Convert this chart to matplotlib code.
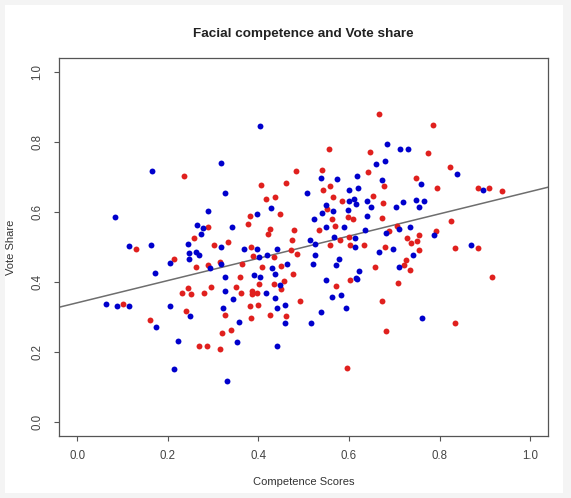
import matplotlib.pyplot as plt
from matplotlib.patches import Rectangle

plt.rcParams['font.family'] = ['Liberation Sans', 'DejaVu Sans']

# competence score (x) and vote share (y)
blue_x = [0.318, 0.165, 0.327, 0.290, 0.084, 0.265, 0.278, 0.274, 0.317, 0.114,
          0.163, 0.245, 0.248, 0.263, 0.270, 0.246, 0.205, 0.294, 0.318, 0.173,
          0.327,
          0.403, 0.684, 0.679, 0.660, 0.539, 0.573, 0.617, 0.673, 0.600, 0.619,
          0.508, 0.601, 0.611, 0.615, 0.639, 0.427, 0.550, 0.564, 0.597, 0.649,
          0.397, 0.523, 0.541, 0.640, 0.342, 0.549, 0.590, 0.636, 0.682, 0.513,
          0.525, 0.566, 0.613, 0.614, 0.368, 0.397, 0.402, 0.420, 0.442, 0.525,
          0.667, 0.431, 0.464, 0.521, 0.572, 0.579, 0.622, 0.391, 0.403, 0.436,
          0.616,
          0.712, 0.731, 0.839, 0.758, 0.897, 0.719, 0.748, 0.766, 0.704, 0.755,
          0.710, 0.735, 0.788, 0.697, 0.869, 0.742, 0.711,
          0.326, 0.064, 0.088, 0.115, 0.204, 0.321, 0.250, 0.175, 0.223, 0.213,
          0.331,
          0.448, 0.417, 0.345, 0.436, 0.550, 0.617, 0.563, 0.583, 0.442, 0.458,
          0.357, 0.458, 0.517, 0.538, 0.594, 0.352, 0.442,
          0.761]
blue_y = [0.740, 0.718, 0.654, 0.603, 0.585, 0.563, 0.553, 0.538, 0.500, 0.502,
          0.504, 0.508, 0.483, 0.486, 0.476, 0.464, 0.454, 0.439, 0.452, 0.424,
          0.415,
          0.846, 0.794, 0.746, 0.738, 0.698, 0.694, 0.703, 0.692, 0.664, 0.669,
          0.655, 0.632, 0.636, 0.623, 0.632, 0.611, 0.621, 0.603, 0.606, 0.613,
          0.594, 0.579, 0.597, 0.588, 0.558, 0.557, 0.558, 0.548, 0.541, 0.519,
          0.509, 0.529, 0.525, 0.499, 0.494, 0.494, 0.472, 0.478, 0.494, 0.478,
          0.485, 0.440, 0.450, 0.450, 0.447, 0.464, 0.432, 0.419, 0.414, 0.423,
          0.411,
          0.781, 0.781, 0.708, 0.680, 0.662, 0.629, 0.634, 0.632, 0.613, 0.615,
          0.550, 0.556, 0.535, 0.494, 0.506, 0.476, 0.443,
          0.373, 0.338, 0.330, 0.331, 0.332, 0.326, 0.301, 0.270, 0.232, 0.151,
          0.116,
          0.390, 0.369, 0.351, 0.353, 0.405, 0.409, 0.356, 0.362, 0.324, 0.334,
          0.285, 0.281, 0.283, 0.314, 0.325, 0.228, 0.217,
          0.297]

red_x = [0.237, 0.288, 0.259, 0.303, 0.333, 0.131, 0.213, 0.263, 0.288, 0.315,
         0.666, 0.556, 0.647, 0.484, 0.541, 0.643, 0.461, 0.405, 0.677, 0.543,
         0.558, 0.418, 0.436, 0.564, 0.654, 0.584, 0.675, 0.551, 0.448, 0.382,
         0.563, 0.597, 0.610, 0.672, 0.377, 0.425, 0.422, 0.478, 0.535, 0.570,
         0.475, 0.581, 0.600, 0.558, 0.603, 0.633, 0.680, 0.384, 0.389, 0.434,
         0.473, 0.486, 0.364, 0.409, 0.450, 0.658, 0.359, 0.476,
         0.786, 0.775, 0.824, 0.749, 0.795, 0.885, 0.910, 0.937, 0.706, 0.825,
         0.688, 0.793, 0.754, 0.729, 0.736, 0.751, 0.835, 0.885, 0.755, 0.727,
         0.721, 0.735, 0.915,
         0.245, 0.232, 0.251, 0.280, 0.296, 0.102, 0.327, 0.240, 0.162, 0.319,
         0.268, 0.287, 0.316,
         0.350, 0.401, 0.434, 0.457, 0.451, 0.361, 0.385, 0.386, 0.397, 0.491,
         0.572, 0.603, 0.381, 0.400, 0.461, 0.425, 0.384, 0.672, 0.681, 0.339,
         0.596,
         0.709, 0.835]
red_y = [0.702, 0.557, 0.524, 0.506, 0.513, 0.493, 0.466, 0.443, 0.448, 0.456,
         0.881, 0.781, 0.771, 0.717, 0.720, 0.714, 0.684, 0.677, 0.675, 0.664,
         0.674, 0.637, 0.642, 0.644, 0.646, 0.630, 0.624, 0.609, 0.594, 0.589,
         0.580, 0.585, 0.581, 0.583, 0.566, 0.550, 0.537, 0.548, 0.549, 0.560,
         0.521, 0.521, 0.527, 0.506, 0.506, 0.505, 0.499, 0.500, 0.475, 0.470,
         0.490, 0.480, 0.451, 0.442, 0.445, 0.441, 0.414, 0.421,
         0.848, 0.767, 0.727, 0.698, 0.667, 0.667, 0.669, 0.660, 0.561, 0.574,
         0.544, 0.545, 0.535, 0.524, 0.512, 0.517, 0.496, 0.498, 0.490, 0.462,
         0.448, 0.434, 0.413,
         0.383, 0.367, 0.365, 0.369, 0.385, 0.336, 0.306, 0.318, 0.290, 0.253,
         0.217, 0.217, 0.208,
         0.386, 0.394, 0.395, 0.401, 0.380, 0.369, 0.375, 0.365, 0.367, 0.344,
         0.389, 0.405, 0.330, 0.334, 0.301, 0.305, 0.296, 0.344, 0.260, 0.261,
         0.153,
         0.396, 0.281]

# fitted line as it appears in the picture
fit_intercept = 0.340
fit_slope = 0.318

ticks = [0.0, 0.2, 0.4, 0.6, 0.8, 1.0]

fig = plt.figure(figsize=(5.71, 4.98), dpi=100, facecolor='#f4f4f4')
fig.patches.append(Rectangle((5 / 571, 5 / 498), 558 / 571, 488 / 498,
                             transform=fig.transFigure, facecolor='white',
                             edgecolor='none', zorder=-10))
ax = fig.add_axes([0.1033, 0.1251, 0.8569, 0.7584])
ax.set_zorder(1)

ax.scatter(red_x, red_y, s=18, color='#e0201e', linewidths=0, zorder=3)
ax.scatter(blue_x, blue_y, s=18, color='#0000cc', linewidths=0, zorder=3)
ax.axline((0, fit_intercept), slope=fit_slope, color='#6e6e6e', lw=1.1, zorder=2)

ax.set_xlim(-0.04, 1.04)
ax.set_ylim(-0.04, 1.04)
ax.set_xticks(ticks)
ax.set_yticks(ticks)
ax.set_xticklabels(['%.1f' % t for t in ticks])
ax.set_yticklabels(['%.1f' % t for t in ticks], rotation=90, va='center')

for s in ax.spines.values():
    s.set_color('#555555')
    s.set_linewidth(0.9)
ax.tick_params(direction='out', length=3.6, width=0.8, color='#555555',
               labelsize=8.3, labelcolor='#444444')
ax.tick_params(axis='x', pad=7)
ax.tick_params(axis='y', pad=7.5)

fig.text(303.6 / 571, 0.931, 'Facial competence and Vote share',
         ha='center', va='center', fontsize=9.7, fontweight='bold', color='#222222')
fig.text(303.6 / 571, 1 - 482 / 498, 'Competence Scores',
         ha='center', va='center', fontsize=8, color='#333333')
fig.text(11 / 571, 1 - 247 / 498, 'Vote Share', rotation=90,
         ha='center', va='center', fontsize=8, color='#333333')

fig.savefig('out.png', dpi=100, facecolor=fig.get_facecolor())
